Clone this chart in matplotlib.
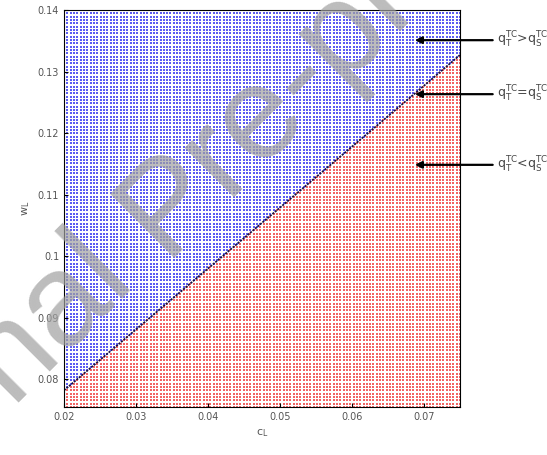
import matplotlib
matplotlib.use('Agg')
import matplotlib.pyplot as plt
import numpy as np

plt.rcParams['mathtext.default'] = 'regular'

# axis ranges of the sampled grid
c_range = [0.02, 0.075]
w_range = [0.0755, 0.14]
n_pts = 120

# boundary q_T = q_S
c_line = [0.02, 0.03, 0.04, 0.05, 0.06, 0.07, 0.075]
w_line = [0.0782, 0.0881, 0.0980, 0.1079, 0.1178, 0.1277, 0.1327]

x_ticks = [0.02, 0.03, 0.04, 0.05, 0.06, 0.07]
y_ticks = [0.08, 0.09, 0.1, 0.11, 0.12, 0.13, 0.14]
y_ticklabels = ['0.08', '0.09', '0.1', '0.11', '0.12', '0.13', '0.14']

labels = [r'$q_T^{TC}$>$q_S^{TC}$', r'$q_T^{TC}$=$q_S^{TC}$', r'$q_T^{TC}$<$q_S^{TC}$']

fig = plt.figure(figsize=(5.47, 4.55), dpi=100)
ax = fig.add_axes([0.117, 0.1055, 0.724, 0.8725])

cc, ww = np.meshgrid(np.linspace(c_range[0], c_range[1], n_pts),
                     np.linspace(w_range[0], w_range[1], n_pts))
above = ww > np.interp(cc, c_line, w_line)

ax.scatter(cc[above], ww[above], s=3.6, marker='s', color='#5c5cf2', linewidths=0)
ax.scatter(cc[~above], ww[~above], s=3.6, marker='s', color='#f26464', linewidths=0)
ax.plot(c_line, w_line, color='#1a1040', lw=1.3, ls=(0, (1.2, 0.6)))

ax.set_xlim(c_range)
ax.set_ylim(w_range)
ax.set_xticks(x_ticks)
ax.set_yticks(y_ticks)
ax.set_yticklabels(y_ticklabels)
ax.tick_params(direction='in', labelsize=7, labelcolor='#555555', length=3)
ax.set_xlabel(r'$c_L$', fontsize=8, color='#555555')
ax.set_ylabel(r'$w_L$', fontsize=8, color='#555555')

# arrows with labels outside the axes
arrow_y = [0.924, 0.788, 0.610]
for lab, yy in zip(labels, arrow_y):
    ax.annotate(lab, xy=(0.886, yy), xytext=(1.093, yy),
                xycoords='axes fraction', textcoords='axes fraction',
                ha='left', va='center', fontsize=9, color='#444444',
                arrowprops=dict(arrowstyle='-|>', color='black', lw=1.6,
                                mutation_scale=10, shrinkA=1, shrinkB=0))

# watermark, split at the space so the two halves meet at the P
wm = dict(fontsize=95, color='#a0a0a0', family='Liberation Sans', alpha=0.7,
          rotation=45, rotation_mode='anchor', va='baseline')
fig.text(0.298, 0.433, 'Journal ', ha='right', **wm)
fig.text(0.298, 0.433, 'Pre-proof', ha='left', **wm)

fig.savefig('out.png', dpi=100)
